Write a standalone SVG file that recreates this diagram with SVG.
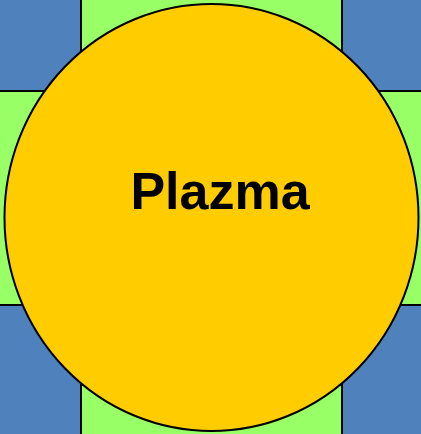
<svg xmlns="http://www.w3.org/2000/svg" width="421" height="434" viewBox="0 0 421 434">
<style>
.sq{fill:#4f81bd;stroke:#000;stroke-width:2}
.pl{fill:#ffcc00;stroke:#000;stroke-width:2}
.lb{font-family:"Liberation Sans",Arial,sans-serif;font-weight:bold;font-size:52px;fill:#000}
</style>
<rect x="0" y="0" width="421" height="434" fill="#99ff66"/>
<g id="corner-tl"><rect class="sq" x="-5" y="-5" width="86" height="96"/></g>
<g id="corner-tr"><rect class="sq" x="342" y="-5" width="85" height="96"/></g>
<g id="corner-bl"><rect class="sq" x="-5" y="305" width="86" height="135"/></g>
<g id="corner-br"><rect class="sq" x="342" y="305" width="85" height="135"/></g>
<g id="plazma">
<ellipse class="pl" cx="211.5" cy="217.5" rx="207" ry="213.5"/>
<text class="lb" x="220" y="209" text-anchor="middle">Plazma</text>
</g>
</svg>
